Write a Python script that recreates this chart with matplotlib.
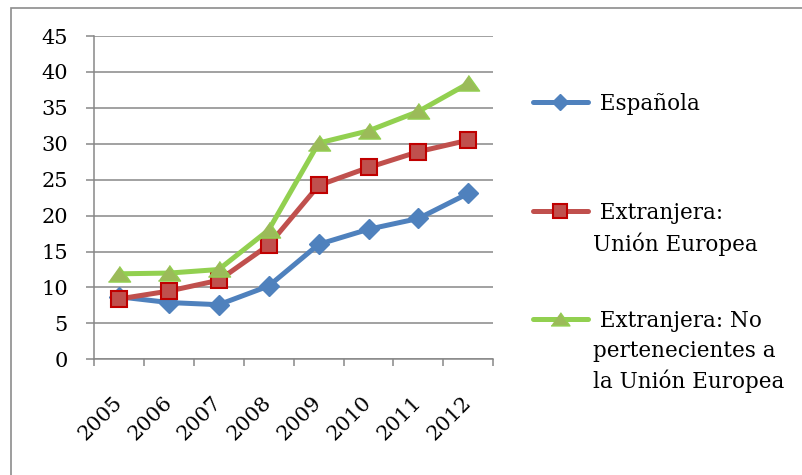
import numpy as np
import matplotlib
matplotlib.use("Agg")
import matplotlib.pyplot as plt
from matplotlib.lines import Line2D
from matplotlib.patches import Rectangle

# data
years = ["2005", "2006", "2007", "2008", "2009", "2010", "2011", "2012"]
espanola = [8.7, 7.9, 7.6, 10.2, 16.0, 18.1, 19.6, 23.1]
extranjera_ue = [8.4, 9.5, 11.0, 15.9, 24.2, 26.7, 28.9, 30.5]
extranjera_no_ue = [11.9, 12.0, 12.5, 18.0, 30.1, 31.8, 34.5, 38.4]
series_names = [" Española", " Extranjera:\nUnión Europea",
                " Extranjera: No\npertenecientes a\nla Unión Europea"]
y_ticks = [0, 5, 10, 15, 20, 25, 30, 35, 40, 45]

GRID = "#878787"
FONT = "DejaVu Serif"
TRI = [(-1, -0.68), (1, -0.68), (0, 0.72)]

styles = [
    dict(color="#4F81BD", marker="D", ms=10, mfc="#4F81BD", mec="#4F81BD", mew=1),
    dict(color="#C0504D", marker="s", ms=12, mfc="#C0504D", mec="#C00000", mew=1.5),
    dict(color="#92D050", marker=TRI, ms=16, mfc="#9BBB59", mec="#92D050", mew=1),
]

W, H = 803, 475
fig = plt.figure(figsize=(W / 100, H / 100), dpi=100)
ax = fig.add_axes([94 / W, 1 - 359.3 / H, (493.3 - 94) / W, (359.3 - 36) / H])

x = np.arange(len(years))
for vals, st in zip([espanola, extranjera_ue, extranjera_no_ue], styles):
    ax.plot(x, vals, lw=3.6, solid_joinstyle="round", zorder=3, clip_on=False, **st)

ax.set_xlim(-0.5, len(years) - 0.5)
ax.set_ylim(0, 45)
ax.set_yticks(y_ticks)
ax.set_yticklabels([str(t) for t in y_ticks], fontfamily=FONT, fontsize=15)
ax.tick_params(axis="y", length=5.8, width=1.1, color=GRID, pad=13)
ax.grid(axis="y", color=GRID, lw=1.1, zorder=0)
ax.set_axisbelow(True)

ax.set_xticks(x)
ax.set_xticklabels(years, fontfamily=FONT, fontsize=15, rotation=45,
                   ha="right", va="center", rotation_mode="anchor")
ax.tick_params(axis="x", length=0, pad=29)
ax.set_xticks(np.arange(-0.5, len(years)), minor=True)
ax.tick_params(axis="x", which="minor", length=5, width=1.1, color=GRID)

for s in ["top", "right"]:
    ax.spines[s].set_visible(False)
for s in ["left", "bottom"]:
    ax.spines[s].set_color(GRID)
    ax.spines[s].set_linewidth(1.1)

# legend drawn by hand so markers line up with the first text line
leg_y = [102, 211, 319]
for name, st, yy in zip(series_names, styles, leg_y):
    yf = 1 - yy / H
    fig.add_artist(Line2D([533 / W, 588 / W], [yf, yf], lw=3.6,
                          solid_capstyle="round", transform=fig.transFigure,
                          color=st["color"]))
    fig.add_artist(Line2D([560.5 / W], [yf], transform=fig.transFigure,
                          ls="none", marker=st["marker"], ms=st["ms"] * 0.85,
                          mfc=st["mfc"], mec=st["mec"], mew=st["mew"]))
    fig.text(593 / W, 1 - (yy - 9) / H, name, fontfamily=FONT, fontsize=15.5,
             ha="left", va="top", linespacing=1.45)

# outer chart border (only top and left visible in the crop)
fig.add_artist(Rectangle((11 / W, -0.1), 1.2, 1.1 - 7.5 / H, fill=False,
                         ec="#8C8C8C", lw=1.2, transform=fig.transFigure))

fig.savefig("out.png", dpi=100)
